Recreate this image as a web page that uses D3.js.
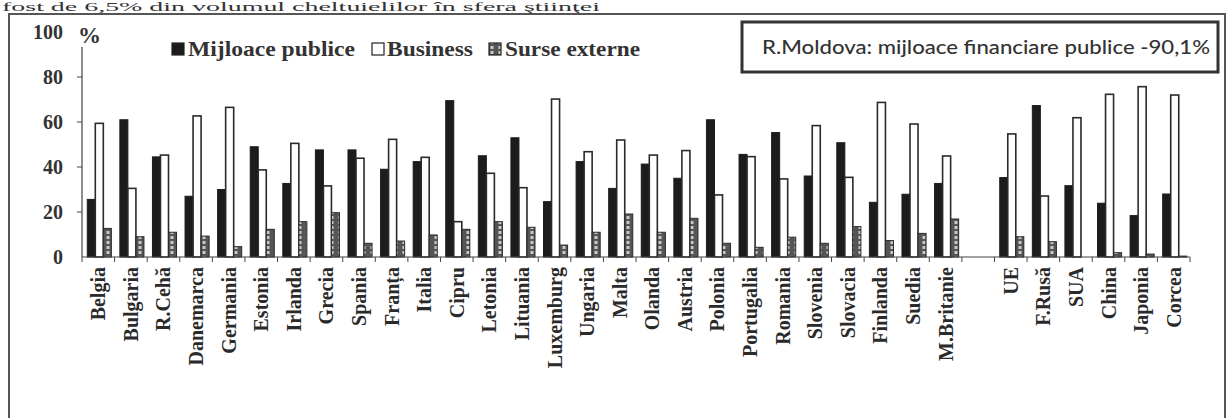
<!DOCTYPE html>
<html><head><meta charset="utf-8">
<script src="https://cdn.jsdelivr.net/npm/d3@7"></script>
<style>html,body{margin:0;padding:0;background:#fff;overflow:hidden}</style>
</head><body>
<svg id="chart" width="1229" height="418"></svg>
<script>
const categoriesEU = ["Belgia","Bulgaria","R.Cehă","Danemarca","Germania","Estonia","Irlanda","Grecia","Spania","Franța","Italia","Cipru","Letonia","Lituania","Luxemburg","Ungaria","Malta","Olanda","Austria","Polonia","Portugalia","Romania","Slovenia","Slovacia","Finlanda","Suedia","M.Britanie"];
const categoriesOther = ["UE","F.Rusă","SUA","China","Japonia","Corcea"];
const seriesNames = ["Mijloace publice","Business","Surse externe"];
const publicFunds = [25.6,61,44.5,27,30,49,32.7,47.6,47.6,39,42.4,69.5,45,53,24.6,42.4,30.5,41.3,35,61,45.6,55.3,36,50.8,24.3,27.9,32.7, 35.3,67.3,31.7,23.9,18.4,28];
const business    = [59.4,30.5,45.3,62.7,66.5,38.7,50.5,31.6,43.9,52.3,44.3,15.7,37.2,30.8,70.2,46.8,52,45.3,47.3,27.6,44.6,34.7,58.4,35.4,68.7,59.1,44.9, 54.7,27.1,61.9,72.3,75.7,72];
const external    = [12.7,9,11,9.3,4.6,12.3,15.7,19.7,6.1,7.1,9.8,12.3,15.7,13.2,5.3,11,19.1,11,17.2,6.1,4.3,8.8,6.1,13.5,7.3,10.5,16.9, 9,6.8,0,1.9,1.3,0.4];
const yTicks = [0,20,40,60,80,100];
const headerText = "fost de 6,5% din volumul cheltuielilor în sfera ştiinţei";
const noteText = "R.Moldova: mijloace financiare publice -90,1%";

const svg = d3.select("#chart");
const defs = svg.append("defs");
const pat = defs.append("pattern").attr("id","dots").attr("patternUnits","userSpaceOnUse")
  .attr("width",8).attr("height",5);
pat.append("rect").attr("width",8).attr("height",5).attr("fill","#555");
pat.append("rect").attr("x",2.5).attr("y",1).attr("width",3).attr("height",3).attr("fill","#c8c8c8");

const GAP = "__gap";
const categories = [...categoriesEU, GAP, ...categoriesOther];
const allCats = [...categoriesEU, ...categoriesOther];
const data = allCats.map((c,i)=>({cat:c, vals:[publicFunds[i], business[i], external[i]]}));

const x = d3.scaleBand().domain(categories).range([82,1190]).padding(0);
const xs = d3.scaleBand().domain(seriesNames).range([0,x.bandwidth()]).paddingInner(0).paddingOuter(0.53).align(0.62);
const y = d3.scaleLinear().domain([0,100]).range([257,32]);

// header text (partly cut off in the source scan)
svg.append("text").attr("x",2).attr("y",11).attr("font-family","Liberation Serif, serif")
  .attr("font-size",11.5).attr("fill","#333").attr("textLength",598).attr("lengthAdjust","spacingAndGlyphs").text(headerText);

// outer frame
svg.append("rect").attr("x",9).attr("y",14).attr("width",1216).attr("height",430)
  .attr("fill","none").attr("stroke","#555").attr("stroke-width",2);

// bars
const colors = ["#1c1c1c","#ffffff","url(#dots)"];
const g = svg.append("g");
data.forEach(d=>{
  d.vals.forEach((v,j)=>{
    if (v<=0) return;
    g.append("rect")
      .attr("x", x(d.cat)+xs(seriesNames[j]))
      .attr("y", y(v))
      .attr("width", xs.bandwidth())
      .attr("height", y(0)-y(v))
      .attr("fill", colors[j])
      .attr("stroke", j===0?"#1c1c1c":"#2a2a2a")
      .attr("stroke-width", j===1?1.6:1);
  });
});

// y axis
svg.append("line").attr("x1",82).attr("x2",82).attr("y1",47).attr("y2",257).attr("stroke","#444").attr("stroke-width",1.2);
yTicks.forEach(t=>{
  if (t>0 && t<100) svg.append("line").attr("x1",77).attr("x2",82).attr("y1",y(t)).attr("y2",y(t)).attr("stroke","#444");
  svg.append("text").attr("x",63).attr("y",y(t)).attr("dy","0.35em").attr("text-anchor","end")
    .attr("font-family","Liberation Serif, serif").attr("font-weight","bold").attr("font-size",20).attr("fill","#333").text(t);
});
svg.append("text").attr("x",78).attr("y",35).attr("dy","0.35em")
  .attr("font-family","Liberation Serif, serif").attr("font-weight","bold").attr("font-size",23).attr("fill","#333").text("%");

// x axis
svg.append("line").attr("x1",82).attr("x2",1190).attr("y1",257).attr("y2",257).attr("stroke","#444").attr("stroke-width",1.2);
categories.forEach((c,i)=>{
  svg.append("line").attr("x1",x(c)).attr("x2",x(c)).attr("y1",257).attr("y2",262).attr("stroke","#444");
});
svg.append("line").attr("x1",1190).attr("x2",1190).attr("y1",257).attr("y2",262).attr("stroke","#444");
allCats.forEach(c=>{
  const cx = x(c)+x.bandwidth()/2;
  svg.append("text").attr("transform",`translate(${cx},267) rotate(-90)`)
    .attr("dy","0.35em").attr("text-anchor","end")
    .attr("font-family","Liberation Serif, serif").attr("font-weight","bold").attr("font-size",20).attr("fill","#2a2a2a").text(c);
});

// legend
const legend = [
  {sx:172, tx:188, tl:167, name:seriesNames[0], fill:"#1c1c1c"},
  {sx:372, tx:387, tl:86, name:seriesNames[1], fill:"#ffffff"},
  {sx:489, tx:505, tl:135, name:seriesNames[2], fill:"url(#dots)"}
];
legend.forEach(l=>{
  svg.append("rect").attr("x",l.sx).attr("y",43).attr("width",12).attr("height",12)
    .attr("fill",l.fill).attr("stroke","#222").attr("stroke-width",1.2);
  svg.append("text").attr("x",l.tx).attr("y",56).attr("font-family","Liberation Serif, serif")
    .attr("font-weight","bold").attr("font-size",22).attr("fill","#333")
    .attr("textLength",l.tl).attr("lengthAdjust","spacingAndGlyphs").text(l.name);
});

// note box
svg.append("rect").attr("x",742).attr("y",22).attr("width",476).attr("height",50)
  .attr("fill","#fff").attr("stroke","#333").attr("stroke-width",3);
svg.append("text").attr("x",762).attr("y",47).attr("dy","0.35em").attr("font-family","Lato, 'Open Sans', sans-serif")
  .attr("font-size",19).attr("font-weight","500").attr("fill","#333").attr("textLength",448).attr("lengthAdjust","spacingAndGlyphs").text(noteText);
</script>
</body></html>
